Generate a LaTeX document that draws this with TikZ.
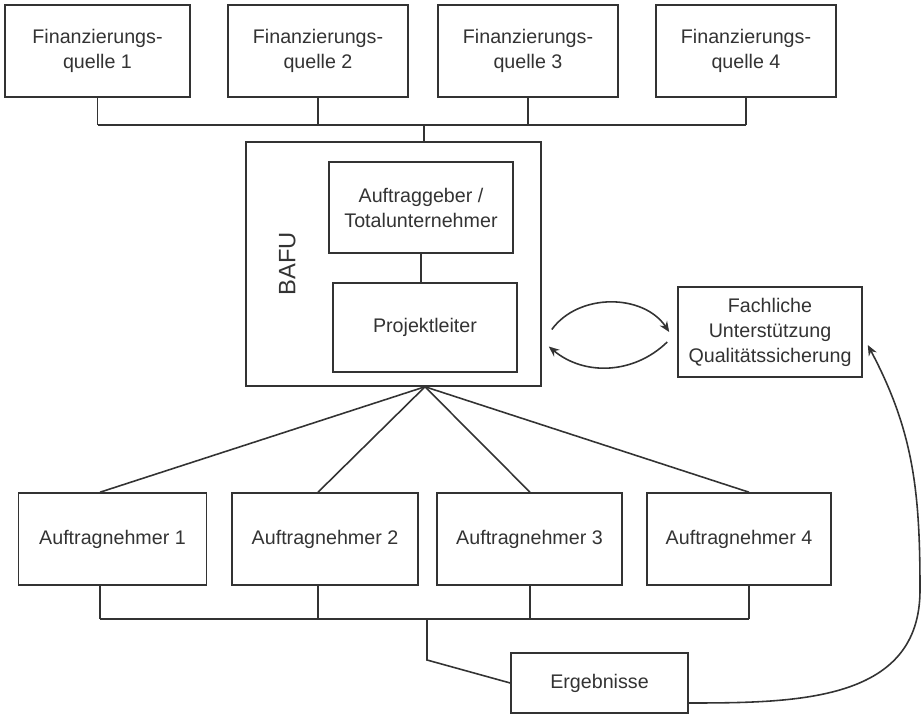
\documentclass[tikz,border=0pt]{standalone}
\usepackage{fontspec}
\setmainfont{Liberation Sans}
\usetikzlibrary{positioning,calc,arrows.meta}

\begin{document}
\begin{tikzpicture}[x=0.02cm, y=-0.02cm, line width=0.9pt, color=black!80,
    box/.style={draw, align=center, minimum width=3.6cm, minimum height=1.84cm,
      inner sep=2pt, font=\fontsize{11.2}{14.2}\selectfont},
    link/.style={-{Stealth[length=6pt,width=5pt]}}]
    \useasboundingbox (0,0) rectangle (922,715);

    % Financing sources
    \node[box, minimum width=3.7cm] (fq1) at (97.5,51) {Finanzierungs-\\quelle 1};
    \node[box] (fq2) at (318,51) {Finanzierungs-\\quelle 2};
    \node[box] (fq3) at (528,51) {Finanzierungs-\\quelle 3};
    \node[box] (fq4) at (746,51) {Finanzierungs-\\quelle 4};

    % BAFU
    \node[draw, minimum width=5.9cm, minimum height=4.88cm] (bafu) at (393.5,264) {};
    \node[box, minimum width=3.68cm, minimum height=1.82cm] (ag) at (421,207.5) {Auftraggeber /\\Totalunternehmer};
    \node[box, minimum width=3.68cm, minimum height=1.78cm] (pl) at (425,327.5) {Projektleiter};
    \node[rotate=90, font=\fontsize{13.5}{16}\selectfont] (bafutxt) at ($(bafu.west)+(42,0)$) {BAFU};

    % Support
    \node[box, minimum width=3.68cm, minimum height=1.8cm] (fach) at (770,332) {Fachliche\\Unterstützung\\Qualitätssicherung};

    % Contractors
    \node[box, minimum width=3.76cm] (an1) at (112.5,539) {Auftragnehmer 1};
    \node[box, minimum width=3.72cm] (an2) at (325,539) {Auftragnehmer 2};
    \node[box, minimum width=3.7cm] (an3) at (529.5,539) {Auftragnehmer 3};
    \node[box, minimum width=3.68cm] (an4) at (739,539) {Auftragnehmer 4};

    % Results
    \node[box, minimum width=3.54cm, minimum height=1.2cm] (erg) at (599.5,683) {Ergebnisse};

    % Top bus
    \coordinate (tb) at (424,125);
    \foreach \n in {1,...,4}
        \draw (fq\n.south) -- (fq\n.south |- tb);
    \draw (fq1.south |- tb) -- (fq4.south |- tb);
    \draw (tb) -- (tb |- bafu.north);
    \draw (ag.south) -- (ag.south |- pl.north);

    % Fan and bottom bus
    \coordinate (fan) at (pl.south |- bafu.south);
    \coordinate (b1) at (100,619);
    \coordinate (b2) at (318,619);
    \coordinate (b3) at (530,619);
    \coordinate (b4) at (749,619);
    \foreach \n in {1,...,4} {
        \draw (fan) -- (an\n.north -| b\n);
        \draw (an\n.south -| b\n) -- (b\n);
    }
    \draw (b1) -- (b4);
    \coordinate (bm) at (427,619);
    \draw (bm) -- ++(0,41) -- (erg.west);

    % Exchange
    \draw[link] ($(pl.east)+(34,2)$) to[bend left=55] ($(fach.west)+(-8,0)$);
    \draw[link] ($(fach.west)+(-10,10)$) to[bend left=42] ($(pl.east)+(31,19)$);

    % Feedback
    \coordinate (ce) at (920,590);
    \draw[link] ([yshift=-0.4cm]erg.east) to[out=0,in=-90,looseness=1.1] (ce)
        to[out=90,in=-62] ([shift={(0.1cm,-0.26cm)}]fach.east);
\end{tikzpicture}
\end{document}
